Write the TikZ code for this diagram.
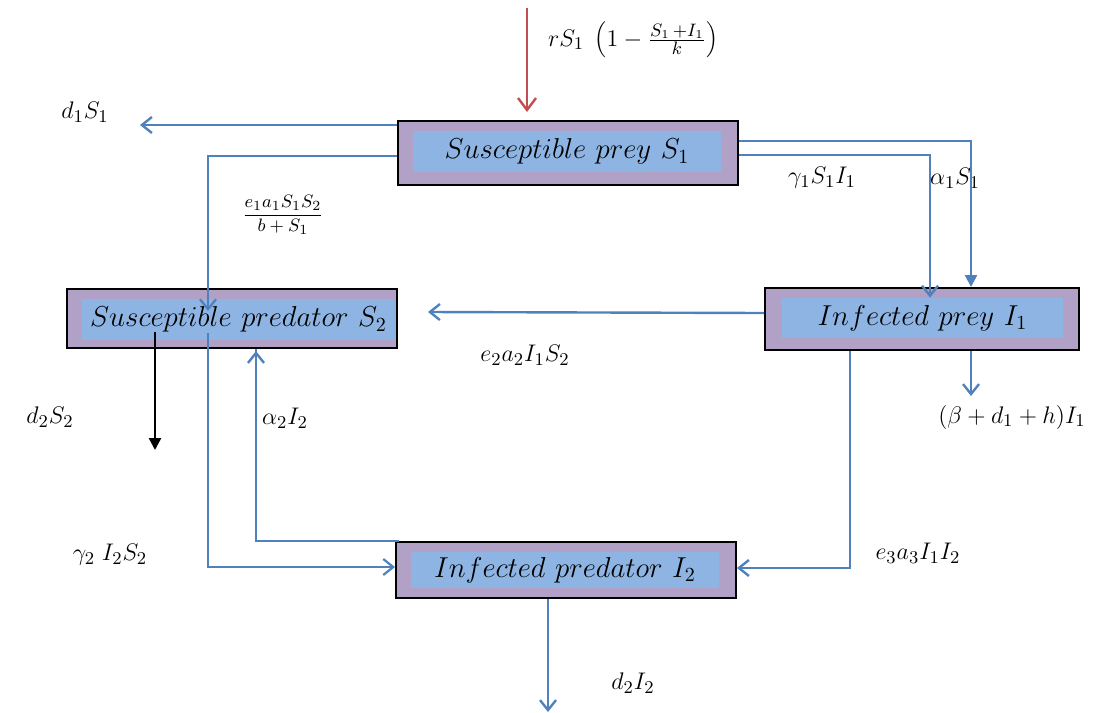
\documentclass[tikz,border=0pt]{standalone}
\usetikzlibrary{arrows.meta}
\definecolor{lineblue}{HTML}{4F81BD}
\definecolor{boxpurple}{HTML}{B2A1C7}
\definecolor{boxblue}{HTML}{8DB4E2}
\definecolor{arrred}{HTML}{C0504D}
\begin{document}
\begin{tikzpicture}[x=0.5pt,y=-0.5pt,
  outerbox/.style={draw=black,line width=1pt,fill=boxpurple,inner sep=0pt},
  innerbox/.style={fill=boxblue,inner sep=0pt,font=\fontsize{14.8}{16}\selectfont},
  flow/.style={draw=lineblue,line width=1.2pt,-{Straight Barb[length=5pt,width=8pt,line width=1.2pt]}},
  thinflow/.style={draw=lineblue,line width=0.85pt,-{Straight Barb[length=5pt,width=8pt,line width=1.1pt]}},
  lab/.style={font=\fontsize{12.5}{14}\selectfont,inner sep=0pt}]
\useasboundingbox (0,0) rectangle (1095,712);
% boxes
\node[outerbox,minimum width=170pt,minimum height=32pt] (S1) at (568,153) {};
\node[innerbox,minimum width=154pt,minimum height=20.5pt] (S1in) at (567,151.5) {$Susceptible\ prey\ S_1$};
\node[outerbox,minimum width=165pt,minimum height=29.5pt] (S2) at (232,318.5) {};
\node[innerbox,minimum width=156.5pt,minimum height=20.5pt] (S2in) at (238.5,319.5) {$Susceptible\ predator\ S_2$};
\node[outerbox,minimum width=157pt,minimum height=31pt] (I1) at (922,319) {};
\node[innerbox,minimum width=140.5pt,minimum height=20pt] (I1in) at (922.5,318) {$Infected\ prey\ I_1$};
\node[outerbox,minimum width=170pt,minimum height=28pt] (I2) at (566,570) {};
\node[innerbox,minimum width=154pt,minimum height=18pt] (I2in) at (565,570) {$Infected\ predator\ I_2$};
% free-end coordinates
\coordinate (rtop) at (527,8);
\coordinate (rbot) at (527,112);
\coordinate (d1end) at (140,125);
\coordinate (bIend) at (971,396);
\coordinate (d2Iend) at (548,712);
\coordinate (d2Send) at (155,450);
% labels
\node[lab] (Lr) at (633,40) {$rS_1\;\,\Big(1-\frac{S_1\,+I_1}{k}\Big)$};
\node[lab] (Ld1) at (85,112) {$d_1S_1$};
\node[lab,font=\fontsize{9.5}{11}\selectfont] (Le1) at (283,215) {$\displaystyle\frac{e_1a_1S_1S_2}{b+S_1}$};
\node[lab] (Lg1) at (822,178) {$\gamma_1S_1I_1$};
\node[lab] (La1) at (955,178) {$\alpha_1S_1$};
\node[lab] (Le2) at (525,355) {$e_2a_2I_1S_2$};
\node[lab] (Lb) at (1012,417) {$(\beta+d_1+h)I_1$};
\node[lab] (Le3) at (918,553) {$e_3a_3I_1I_2$};
\node[lab] (Ld2I) at (633,683) {$d_2I_2$};
\node[lab] (Ld2S) at (50,417) {$d_2S_2$};
\node[lab] (La2) at (285,418) {$\alpha_2I_2$};
\node[lab] (Lg2) at (110,555) {$\gamma_2\;I_2S_2$};
% connectors
\draw[draw=arrred,line width=1.2pt,-{Straight Barb[length=6pt,width=9pt,line width=1.2pt]}] (rtop) -- (rbot);
\draw[flow] (S1.west |- 0,125) -- (d1end);
\draw[thinflow] (S1.west |- 0,156) -| (208,311);
\draw[flow] (S1.east |- 0,155) -| (I1in.north -| 930,0);
\draw[draw=lineblue,line width=1.2pt,-{Triangle[length=6pt,width=6pt]}] (S1.east |- 0,141) -| (I1.north -| 971,0);
\draw[flow] (I1.west |- 0,313) -- (428,312);
\draw[flow] (I1.south -| 971,0) -- (bIend);
\draw[flow] (I1.south -| 850,0) |- (I2.east |- 0,568);
\draw[flow] (I2.south -| 548,0) -- (d2Iend);
\draw[draw=black,line width=1.2pt,-{Triangle[length=6pt,width=6pt]}] (155,332) -- (d2Send);
\draw[flow] (I2.north west) ++(4,0) -| (S2.south -| 256,0) ++(0,2);
\draw[thinflow] (208,333) |- (I2.west |- 0,567);
\end{tikzpicture}
\end{document}
